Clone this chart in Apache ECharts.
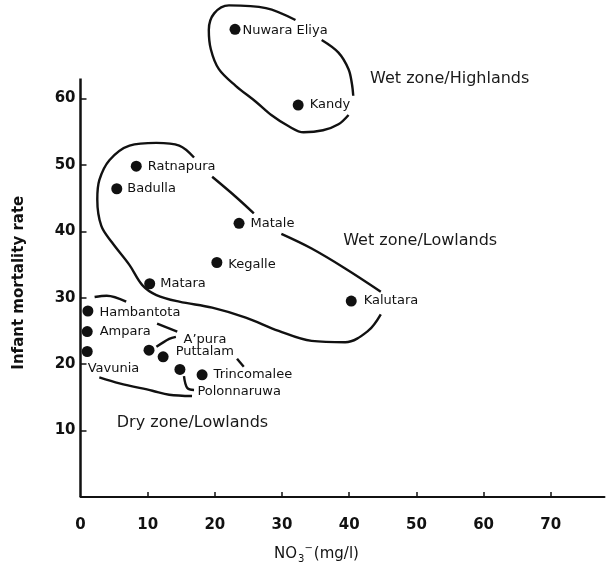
<!DOCTYPE html>
<html>
<head>
<meta charset="utf-8">
<script src="https://cdn.jsdelivr.net/npm/echarts@6/dist/echarts.min.js"></script>
<style>
html,body{margin:0;background:#fff}
#chart{width:607px;height:569px}
</style>
</head>
<body>
<div id="chart"></div>
<script>
// districts, nitrate (mg/l) and infant mortality rate
var districts = ['Nuwara Eliya','Kandy','Ratnapura','Badulla','Matale','Kegalle','Matara','Kalutara',
	'Hambantota','Ampara','Vavunia','A\u2019pura','Puttalam','Polonnaruwa','Trincomalee'];
var no3 = [23.0, 32.4, 8.3, 5.4, 23.6, 20.3, 10.3, 40.3, 1.1, 1.0, 1.0, 10.2, 12.3, 14.8, 18.1];
var imr = [70.4, 59.0, 49.8, 46.4, 41.2, 35.3, 32.1, 29.5, 28.0, 24.9, 21.9, 22.1, 21.1, 19.2, 18.4];

var xTicks = [0, 10, 20, 30, 40, 50, 60, 70];
var yTicks = [10, 20, 30, 40, 50, 60];
var yAxisSpan = [[0, 0], [0, 63]];

// hand drawn zone outlines (data units)
var highlandsA = [[32.0,71.8],[27.6,73.6],[22.1,74.0],[19.9,72.8],[19.1,70.3],[19.4,67.4],[20.6,64.4],
	[23.1,61.9],[26.1,59.5],[28.4,57.5],[31.0,55.8],[33.2,54.9],[36.1,55.2],[38.4,56.1],[39.9,57.5]];
var highlandsB = [[40.6,60.4],[40.4,62.2],[39.9,64.4],[38.4,66.9],[35.9,68.8]];
var wetLowA = [[16.9,51.1],[14.7,52.9],[11.3,53.3],[7.3,52.9],[4.3,50.7],[2.8,47.7],[2.5,44.8],[3.1,40.8],
	[4.7,38.3],[7.3,34.9],[9.2,31.9],[11.3,30.4],[14.7,29.4],[19.6,28.5],[24.6,27.0],[29.5,25.0],
	[34.4,23.5],[39.4,23.3],[42.8,25.0],[44.7,27.5]];
var wetLowB = [[44.7,30.9],[39.4,34.4],[34.4,37.4],[29.9,39.6]];
var wetLowC = [[25.8,42.7],[23.1,45.2],[19.6,48.2]];
var dryTop = [[2.1,30.1],[3.9,30.3],[6.8,29.4]];
var dryMid = [[11.4,26.1],[14.4,24.9]];
var apuraLead = [[11.3,22.6],[13.2,23.8],[14.2,24.1]];
var puttalamTick = [[23.3,20.8],[24.3,19.6]];
var polonLead = [[15.4,18.2],[15.9,16.4],[16.9,16.1]];
var dryBottom = [[2.8,18.0],[5.8,17.1],[10.7,16.0],[13.2,15.4],[16.6,15.2]];

var zoneNames = ['Wet zone/Highlands','Wet zone/Lowlands','Dry zone/Lowlands'];
var zoneX = [43.1, 39.1, 5.4];
var zoneY = [63.0, 38.5, 11.2];

// label nudges for crowded points
var labelOffsets = {
	'Nuwara Eliya':[-4,1], 'Vavunia':[-11,17], 'A\u2019pura':[23,-11], 'Puttalam':[1,-5],
	'Polonnaruwa':[6,22], 'Kalutara':[1,0], 'Ampara':[1,0], 'Badulla':[-1,0], 'Matara':[-1,0],
	'Hambantota':[0,2], 'Kegalle':[0,2]
};

var font = 'DejaVu Sans';
var ink = '#111';

function outline(pts) {
	return {
		type: 'line', data: pts, smooth: 0.35, symbol: 'none', silent: true, clip: false,
		lineStyle: { color: ink, width: 2.4 }, z: 1
	};
}

var points = districts.map(function (d, i) {
	return {
		name: d,
		value: [no3[i], imr[i]],
		label: { offset: labelOffsets[d] || [0, 0] }
	};
});

var zones = zoneNames.map(function (z, i) {
	return { name: z, value: [zoneX[i], zoneY[i]] };
});

var myChart = echarts.init(document.getElementById('chart'));
myChart.setOption({
	animation: false,
	backgroundColor: '#fff',
	grid: { left: 80.5, right: 2.5, top: 5.4, bottom: 63.4 },
	xAxis: {
		type: 'value', min: 0, max: 78,
		name: '{n|NO}{s|3}{p|\u2212}{n|(mg/l)}',
		nameLocation: 'middle', nameGap: 46,
		nameTextStyle: {
			padding: [0, 52, 0, 0],
			rich: {
				n: { fontFamily: font, fontSize: 15, color: ink },
				s: { fontFamily: font, fontSize: 10, color: ink, padding: [10, 0, 0, 1] },
				p: { fontFamily: font, fontSize: 10, color: ink, padding: [0, 1, 12, 0] }
			}
		},
		axisLine: { show: true, lineStyle: { color: ink, width: 2 } },
		axisTick: { show: true, inside: true, length: 5, customValues: xTicks.slice(1), lineStyle: { color: ink, width: 1.5 } },
		axisLabel: { customValues: xTicks, margin: 21, fontFamily: font, fontSize: 15, fontWeight: 'bold', color: ink },
		splitLine: { show: false }
	},
	yAxis: {
		type: 'value', min: 0, max: 74,
		name: 'Infant mortality rate',
		nameLocation: 'middle', nameRotate: 90, nameGap: 54,
		nameTextStyle: { fontFamily: font, fontSize: 15, fontWeight: 'bold', color: ink, padding: [0, 63, 0, 0] },
		axisLine: { show: false },
		axisTick: { show: true, inside: true, length: 6, customValues: yTicks, lineStyle: { color: ink, width: 1.5 } },
		axisLabel: { customValues: yTicks, margin: 5, fontFamily: font, fontSize: 15, fontWeight: 'bold', color: ink },
		splitLine: { show: false }
	},
	series: [
		{
			type: 'line', data: yAxisSpan, symbol: 'none', silent: true,
			lineStyle: { color: ink, width: 2.5 }, z: 2
		},
		outline(highlandsA), outline(highlandsB),
		outline(wetLowA), outline(wetLowB), outline(wetLowC),
		outline(dryTop), outline(dryMid), outline(apuraLead), outline(puttalamTick),
		outline(polonLead), outline(dryBottom),
		{
			type: 'scatter', data: points, symbolSize: 11, clip: false,
			itemStyle: { color: ink, opacity: 1 },
			label: {
				show: true, position: 'right', distance: 6, formatter: '{b}',
				fontFamily: font, fontSize: 13, color: ink
			},
			z: 3
		},
		{
			type: 'scatter', data: zones, symbolSize: 0, silent: true,
			itemStyle: { color: ink, opacity: 1 },
			label: {
				show: true, position: 'right', distance: 0, formatter: '{b}',
				fontFamily: font, fontSize: 16, color: '#1a1a1a'
			},
			z: 3
		}
	]
});
</script>
</body>
</html>
